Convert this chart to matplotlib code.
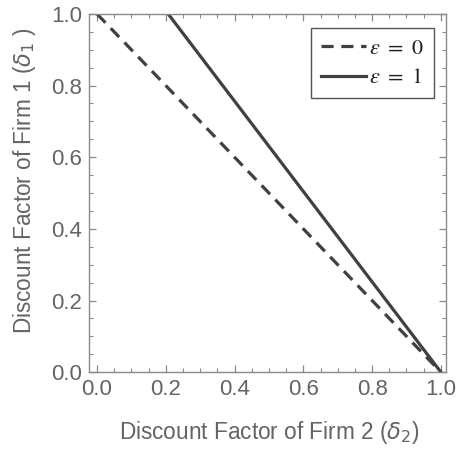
import numpy as np
import matplotlib.pyplot as plt
from matplotlib.ticker import MultipleLocator

# endpoints of the two boundary lines (delta2, delta1)
d2_eps0 = [0.0, 1.0]
d1_eps0 = [1.0, 0.0]
d2_eps1 = [0.207, 1.0]
d1_eps1 = [1.0, 0.0]

plt.rcParams['font.family'] = ['Liberation Sans', 'DejaVu Sans']
plt.rcParams['mathtext.fontset'] = 'dejavusans'

fig = plt.figure(figsize=(4.57, 4.5), dpi=100)
ax = fig.add_axes([0.195, 0.173, 0.781, 0.796])

lc = '#404040'
ax.plot(d2_eps0, d1_eps0, ls=(0, (3.8, 2.4)), color=lc, lw=2.3, label=r'$\varepsilon\ =\ 0$')
ax.plot(d2_eps1, d1_eps1, ls='-', color=lc, lw=2.3, label=r'$\varepsilon\ =\ 1$')

ax.set_xlim(-0.023, 1.015)
ax.set_ylim(0, 1)
ax.xaxis.set_major_locator(MultipleLocator(0.2))
ax.xaxis.set_minor_locator(MultipleLocator(0.05))
ax.yaxis.set_major_locator(MultipleLocator(0.2))
ax.yaxis.set_minor_locator(MultipleLocator(0.05))

fc = '#8a8a8a'
tc = '#646464'
for s in ax.spines.values():
    s.set_color(fc)
    s.set_linewidth(1.0)
ax.tick_params(which='both', direction='in', top=True, right=True, color=fc,
               labelcolor=tc, labelsize=16)
ax.tick_params(axis='x', pad=5)
ax.tick_params(axis='y', pad=5)
ax.tick_params(which='major', length=5, width=0.9)
ax.tick_params(which='minor', length=3, width=0.8)
ax.set_xticklabels([f'{v:.1f}' for v in ax.get_xticks()])
ax.set_yticklabels([f'{v:.1f}' for v in ax.get_yticks()])

ax.set_xlabel(r'Discount Factor of Firm 2 ($\delta_2$)', color=tc, fontsize=16.3, va='center')
ax.set_ylabel(r'Discount Factor of Firm 1 ($\delta_1$ )', color=tc, fontsize=16.3, va='center')
ax.xaxis.set_label_coords(0.505, -0.168)
ax.yaxis.set_label_coords(-0.182, 0.534)

leg = ax.legend(loc='upper right', bbox_to_anchor=(0.997, 0.993), fancybox=False,
                edgecolor='#555555', framealpha=1, handlelength=2.0,
                handletextpad=0.15, borderpad=0.45, labelspacing=0.4,
                prop={'size': 16})
leg.get_frame().set_linewidth(1.0)
for t in leg.get_texts():
    t.set_color('#222222')
    t.set_math_fontfamily('stix')

fig.savefig('out.png', dpi=100)
